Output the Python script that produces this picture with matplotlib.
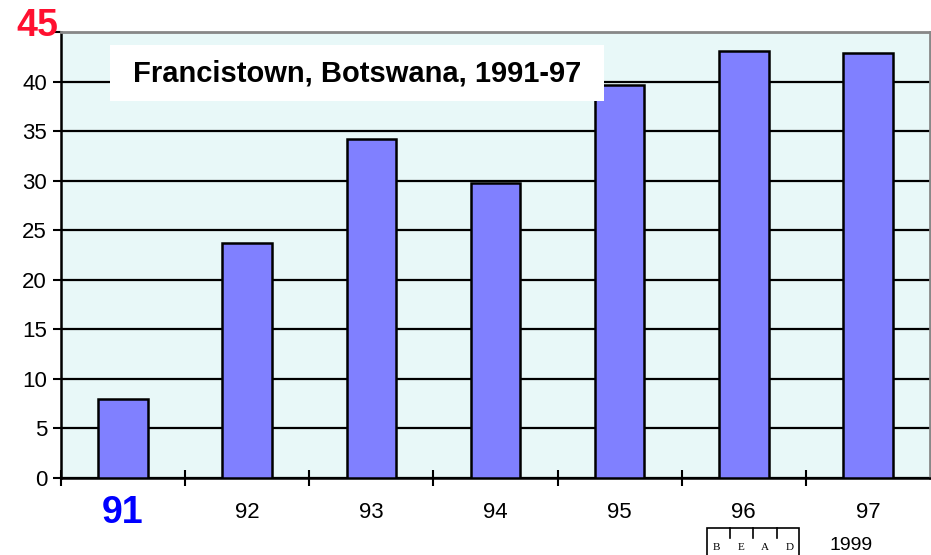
import matplotlib.pyplot as plt
from matplotlib.patches import Rectangle

years = ['91', '92', '93', '94', '95', '96', '97']
values = [8.0, 23.7, 34.2, 29.8, 39.7, 43.1, 42.9]
yticks = [0, 5, 10, 15, 20, 25, 30, 35, 40, 45]

plt.rcParams['font.family'] = ['Liberation Sans', 'DejaVu Sans']

fig = plt.figure(figsize=(9.31, 5.55), dpi=100)
ax = fig.add_axes([0.0655, 0.1387, 0.9334, 0.8036])
ax.set_facecolor('#e8f8f8')

x = range(len(years))
ax.bar(x, values, width=0.4, color='#8080ff', edgecolor='black', linewidth=1.8, zorder=3)

ax.set_ylim(0, 45)
ax.set_xlim(-0.5, len(years) - 0.5)
ax.set_yticks(yticks)
ax.yaxis.grid(True, color='black', linewidth=1.6, zorder=1)
ax.set_axisbelow(True)

# top label (45) is drawn separately: it sits higher and closer to the axis
ax.set_yticklabels([str(v) for v in yticks[:-1]] + [''], fontsize=16)
ax.tick_params(axis='y', direction='out', length=6, width=1.5, pad=4)
ax.annotate(str(yticks[-1]), xy=(0, yticks[-1]), xycoords=('axes fraction', 'data'),
            xytext=(-2, 4), textcoords='offset points', ha='right', va='center',
            fontsize=27, fontweight='bold', color='#ff1030', annotation_clip=False)

ax.set_xticks(list(x))
xlabels = ax.set_xticklabels(years, fontsize=16, va='center')
xlabels[0].set_color('#0000ff')
xlabels[0].set_fontsize(27)
xlabels[0].set_fontweight('bold')
ax.tick_params(axis='x', which='major', length=0, pad=25)
ax.set_xticks([i - 0.5 for i in range(len(years))], minor=True)
ax.tick_params(axis='x', which='minor', direction='inout', length=12, width=1.5)

for side in ['left', 'bottom']:
    ax.spines[side].set_color('black')
    ax.spines[side].set_linewidth(1.8)
for side in ['top', 'right']:
    ax.spines[side].set_color('#888888')
    ax.spines[side].set_linewidth(2)

# title box
ax.add_patch(Rectangle((0.0564, 0.845), 0.5686, 0.126, transform=ax.transAxes,
                       facecolor='white', edgecolor='none', zorder=5))
ax.text(0.0829, 0.908, 'Francistown, Botswana, 1991-97', transform=ax.transAxes,
        fontsize=21, fontweight='bold', ha='left', va='center', zorder=6)

# BEAD logo at bottom
W, H = 931, 555
fig.patches.append(Rectangle((707 / W, -0.05), 92 / W, 0.05 + (H - 528) / H,
                             transform=fig.transFigure, fill=False,
                             edgecolor='black', linewidth=1.2))
for tx in [730, 753, 777]:
    fig.add_artist(plt.Line2D([tx / W, tx / W], [(H - 528) / H, (H - 538) / H],
                              transform=fig.transFigure, color='black', linewidth=1.2))
for letter, lx in zip('BEAD', [716, 741, 765, 790]):
    fig.text(lx / W, (H - 547) / H, letter, fontsize=8, family='Liberation Serif',
             ha='center', va='center')
fig.text(851 / W, (H - 546) / H, '1999', fontsize=14, ha='center', va='center')

fig.savefig('out.png', dpi=100)
